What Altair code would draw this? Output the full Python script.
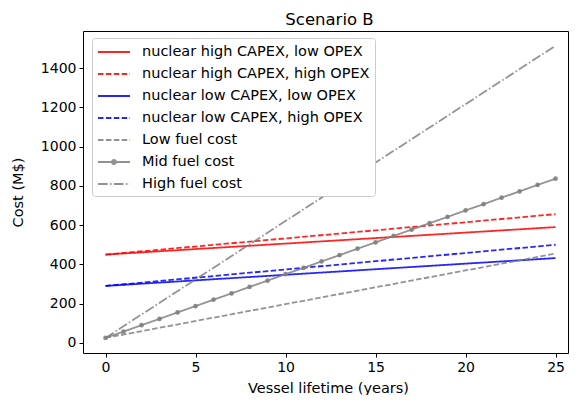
import altair as alt
import pandas as pd

series_names = [
    "nuclear high CAPEX, low OPEX",
    "nuclear high CAPEX, high OPEX",
    "nuclear low CAPEX, low OPEX",
    "nuclear low CAPEX, high OPEX",
    "Low fuel cost",
    "Mid fuel cost",
    "High fuel cost",
]
series_colors = ["#ff0000", "#ff0000", "#0000ff", "#0000ff", "#808080", "#808080", "#808080"]
series_dashes = [[1, 0], [5.5, 2.4], [1, 0], [5.5, 2.4], [5.5, 2.4], [1, 0], [9.6, 2.4, 1.5, 2.4]]

years_ends = [0, 25]
nuc_high_low = [450, 590]
nuc_high_high = [450, 656]
nuc_low_low = [290, 432]
nuc_low_high = [290, 500]
low_fuel = [25, 455]
high_fuel = [25, 1515]
years_mid = list(range(26))
mid_fuel = [25, 57, 90, 122, 155, 187, 220, 252, 285, 317, 350, 382, 415, 447,
            480, 512, 545, 577, 610, 642, 675, 707, 740, 772, 805, 837]
x_ticks = [0, 5, 10, 15, 20, 25]
y_ticks = [0, 200, 400, 600, 800, 1000, 1200, 1400]

rows = []
for name, ys in zip(series_names[:5], [nuc_high_low, nuc_high_high, nuc_low_low, nuc_low_high, low_fuel]):
    for x, y in zip(years_ends, ys):
        rows.append({"series": name, "year": x, "cost": y})
for x, y in zip(years_mid, mid_fuel):
    rows.append({"series": "Mid fuel cost", "year": x, "cost": y})
for x, y in zip(years_ends, high_fuel):
    rows.append({"series": "High fuel cost", "year": x, "cost": y})
df = pd.DataFrame(rows)
df["order"] = df["series"].map({n: i for i, n in enumerate(series_names)})

font = "DejaVu Sans"
xscale = alt.Scale(domain=[-1.25, 25.69], nice=False, zero=False)
yscale = alt.Scale(domain=[-52, 1590], nice=False, zero=False)

xaxis = alt.Axis(values=x_ticks, grid=False, title="Vessel lifetime (years)", format="d",
                 tickSize=4, labelPadding=3, domain=False,
                 titleX=245, titleY=39, titleBaseline="alphabetic", titleAnchor="middle")
yaxis = alt.Axis(values=y_ticks, grid=False, title="Cost (M$)", format="d",
                 tickSize=4, labelPadding=3, titlePadding=15, domain=False)

line_shape = "M-1,0H3"
marker_shape = "M-1,0H3M1.25,0A0.25,0.25,0,1,1,0.75,0A0.25,0.25,0,1,1,1.25,0"
shape_expr = "datum.value === 'Mid fuel cost' ? '%s' : '%s'" % (marker_shape, line_shape)

lines = alt.Chart(df).mark_line(strokeWidth=1.8, opacity=0.85, clip=True).encode(
    x=alt.X("year:Q", scale=xscale, axis=xaxis),
    y=alt.Y("cost:Q", scale=yscale, axis=yaxis),
    color=alt.Color("series:N", scale=alt.Scale(domain=series_names, range=series_colors),
                    legend=alt.Legend(
                        title=None, orient="none", legendX=9, legendY=7,
                        symbolType=alt.ExprRef(expr=shape_expr), symbolSize=256, symbolStrokeWidth=2,
                        labelFontSize=14.5, labelFont=font, labelColor="#000000",
                        labelLimit=0, labelOffset=27, rowPadding=6,
                        fillColor="#ffffff", strokeColor="#cccccc", cornerRadius=3,
                        padding=5, symbolOpacity=0.85,
                    )),
    strokeDash=alt.StrokeDash("series:N", scale=alt.Scale(domain=series_names, range=series_dashes),
                              legend=None),
    order="order:Q",
    detail="series:N",
)

points = alt.Chart(df[df["series"] == "Mid fuel cost"]).mark_point(
    filled=True, size=22, color="#808080", opacity=0.9
).encode(
    x=alt.X("year:Q", scale=xscale),
    y=alt.Y("cost:Q", scale=yscale),
)

chart = alt.layer(lines, points).properties(
    width=485, height=322,
    title=alt.TitleParams("Scenario B", font=font, fontSize=16.5, fontWeight="normal",
                          color="#000000", offset=3, dx=4),
    autosize=alt.AutoSizeParams(type="none"),
    padding={"left": 75, "top": 23, "right": 1, "bottom": 42},
).configure_view(
    stroke="#000000", strokeWidth=1
).configure_axis(
    labelFont=font, titleFont=font, labelFontSize=14, titleFontSize=14.5,
    labelColor="#000000", titleColor="#000000", tickColor="#000000", titleFontWeight="normal",
)

chart.save("out.html", embed_options={"renderer": "svg", "actions": False})
